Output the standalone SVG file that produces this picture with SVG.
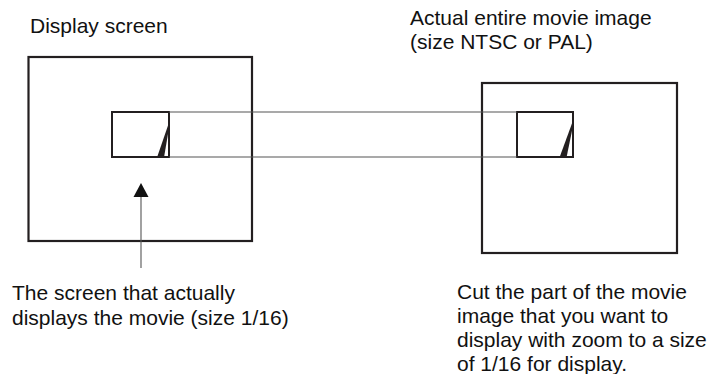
<svg xmlns="http://www.w3.org/2000/svg" width="714" height="374" viewBox="0 0 714 374">
<style>
.frame{fill:none;stroke:#231f20;stroke-width:2.2}
.win{fill:none;stroke:#231f20;stroke-width:2}
.wedge{fill:#231f20}
.conn{stroke:#555;stroke-width:1.1;fill:none}
text{font-family:"Liberation Sans",Arial,sans-serif;font-size:21px;fill:#111}
</style>
<rect width="714" height="374" fill="#fff"/>
<g id="display-screen">
<rect class="frame" x="28.5" y="57" width="223.5" height="184"/>
<text x="30" y="33">Display screen</text>
</g>
<g id="display-window">
<rect class="win" x="112" y="112" width="57" height="45"/>
<polygon class="wedge" points="157,157.5 164,157.5 169,128 168.5,124"/>
</g>
<g id="movie-image">
<rect class="frame" x="482" y="83" width="195" height="170"/>
<text x="410" y="25">Actual entire movie image</text>
<text x="410" y="49">(size NTSC or PAL)</text>
</g>
<g id="cut-part">
<rect class="win" x="517" y="112" width="56" height="45"/>
<polygon class="wedge" points="559.5,157.5 566.5,157.5 573,126 572.5,122"/>
</g>
<g id="connectors">
<line class="conn" x1="169" y1="112" x2="517" y2="112"/>
<line class="conn" x1="169" y1="157" x2="517" y2="157"/>
<line class="conn" x1="141" y1="196" x2="141" y2="268"/>
<polygon fill="#111" points="141,183 133.5,197 148.5,197"/>
</g>
<g id="label-left">
<text x="12" y="300">The screen that actually</text>
<text x="12" y="325">displays the movie (size 1/16)</text>
</g>
<g id="label-right">
<text x="457" y="299">Cut the part of the movie</text>
<text x="457" y="323">image that you want to</text>
<text x="457" y="347">display with zoom to a size</text>
<text x="457" y="371">of 1/16 for display.</text>
</g>
</svg>
